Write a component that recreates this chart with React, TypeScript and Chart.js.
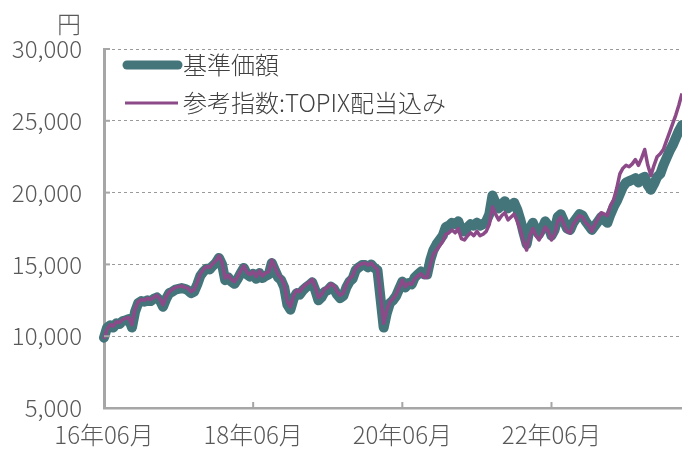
import { useEffect, useRef } from "react";
import { Chart, registerables } from "chart.js";
Chart.register(...registerables);

// Semi-monthly observation dates (nominal), 2016-06 .. 2024-03
const dates: string[] = [];
for (let i = 0; i <= 186; i++) {
  const m = 5 + Math.floor(i / 2);
  const y = 2016 + Math.floor(m / 12);
  const mm = (m % 12) + 1;
  dates.push(`${y}-${String(mm).padStart(2, "0")}-${i % 2 === 0 ? "01" : "16"}`);
}

const tickDates = ["2016-06-01", "2018-06-01", "2020-06-01", "2022-06-01"];
const tickLabels = ["16年06月", "18年06月", "20年06月", "22年06月"];

const unitLabel = "円";
const seriesNames = ["基準価額", "参考指数:TOPIX配当込み"];

const fundValues = [
  9900, 10600, 10750, 10600, 10900, 10850, 11050, 11100, 11200, 10600, 11700, 12300,
  12450, 12400, 12500, 12450, 12600, 12700, 12500, 12050, 12600, 13000, 13100, 13250,
  13300, 13350, 13300, 13200, 13000, 13100, 13600, 14200, 14500, 14700, 14650, 14900,
  15100, 15450, 15000, 13900, 14100, 13800, 13650, 14000, 14400, 14750, 14300, 14150,
  14350, 14000, 14400, 14050, 14200, 14300, 15100, 14600, 14100, 13900, 13400, 12200,
  11850, 12600, 13000, 12900, 13200, 13400, 13550, 13750, 13200, 12500, 12700, 13100,
  13200, 13450, 13300, 12900, 12650, 12800, 13400, 13800, 14000, 14600, 14800, 14950,
  14950, 14800, 15000, 14750, 14600, 12600, 10600, 11600, 12300, 12500, 12800, 13300,
  13800, 13400, 13700, 13600, 14100, 14300, 14500, 14300, 14300, 15300, 16000, 16400,
  16700, 17000, 17600, 17700, 17900, 17800, 18000, 17400, 17300, 17600, 17800, 17700,
  17900, 17700, 17800, 18000, 18500, 19800, 19300, 18900, 19200, 19400, 18900, 19100,
  19300, 18800, 18100, 17200, 16400, 17500, 17900, 17400, 17100, 17500, 18000, 17700,
  17000, 17400, 18300, 18500, 18000, 17500, 17400, 17900, 18200, 18500, 18400, 18000,
  17700, 17400, 17700, 18000, 18300, 18100, 17900, 18500, 19000, 19400, 19900, 20400,
  20700, 20800, 20900, 21000, 20700, 21000, 21100, 20500, 20200, 20600, 21100, 21300,
  21900, 22400, 22900, 23300, 23800, 24300, 24700,
];

const indexValues = [
  9800, 10500, 10800, 10700, 11000, 10950, 11150, 11250, 11300, 10800, 11900, 12400,
  12550, 12500, 12650, 12550, 12700, 12850, 12600, 12200, 12750, 13100, 13250, 13400,
  13450, 13500, 13400, 13350, 13100, 13250, 13750, 14350, 14650, 14850, 14800, 15050,
  15250, 15600, 15150, 14050, 14250, 13950, 13800, 14150, 14550, 14900, 14450, 14300,
  14500, 14150, 14550, 14200, 14400, 14500, 15300, 14800, 14300, 14050, 13600, 12400,
  12050, 12800, 13200, 13100, 13400, 13600, 13750, 13950, 13400, 12700, 12900, 13300,
  13400, 13650, 13500, 13100, 12850, 13000, 13600, 14000, 14200, 14750, 14950, 15050,
  15100, 14950, 15100, 14850, 14650, 12800, 10900, 11800, 12400, 12600, 12900, 13400,
  13900, 13450, 13700, 13600, 14000, 14200, 14350, 14100, 14100, 15000, 15700, 16000,
  16300, 16600, 17100, 17200, 17400, 17200, 17500, 16800, 16700, 17000, 17200, 17000,
  17300, 17000, 17100, 17300, 17800, 19000, 18500, 18100, 18400, 18600, 18100, 18300,
  18500, 18000, 17400, 16600, 16000, 17000, 17500, 17000, 16700, 17100, 17600, 17300,
  16700, 17100, 18000, 18300, 17800, 17300, 17200, 17800, 18100, 18400, 18300, 17900,
  17700, 17300, 17800, 18200, 18600, 18500, 18400, 19100, 19500, 20300, 21300, 21700,
  21900, 21800, 22000, 22300, 21900, 22400, 23000, 21900, 21200, 21900, 22500, 22700,
  23000, 23600, 24200, 24800, 25400, 26100, 26900,
];

const FONT = "'Noto Sans CJK JP', 'Noto Sans', sans-serif";
const TEAL = "#44757b";
const PURPLE = "#8c4a88";
const AXIS = "#a6a6a6";
const TEXT = "#595959";
const LEGEND_TEXT = "#404040";

const overlay = {
  id: "overlay",
  afterDraw(chart: any) {
    const { ctx, chartArea, scales } = chart;
    const xs = scales.x;
    const ys = scales.y;
    ctx.save();
    // inward tick marks
    ctx.strokeStyle = AXIS;
    ctx.lineWidth = 2;
    ys.ticks.forEach((_t: any, i: number) => {
      const py = ys.getPixelForTick(i);
      ctx.beginPath();
      ctx.moveTo(chartArea.left, py);
      ctx.lineTo(chartArea.left + 6, py);
      ctx.stroke();
    });
    tickDates.forEach((d) => {
      const idx = dates.indexOf(d);
      if (idx < 0) return;
      const px = xs.getPixelForValue(idx);
      ctx.beginPath();
      ctx.moveTo(px, chartArea.bottom);
      ctx.lineTo(px, chartArea.bottom - 6);
      ctx.stroke();
    });
    // unit label
    ctx.fillStyle = TEXT;
    ctx.font = `300 24px ${FONT}`;
    ctx.textAlign = "right";
    ctx.textBaseline = "middle";
    ctx.fillText(unitLabel, 81, 24);
    // legend
    ctx.lineCap = "round";
    ctx.strokeStyle = TEAL;
    ctx.lineWidth = 9;
    ctx.beginPath();
    ctx.moveTo(127, 65);
    ctx.lineTo(178, 65);
    ctx.stroke();
    ctx.lineCap = "butt";
    ctx.strokeStyle = PURPLE;
    ctx.lineWidth = 3;
    ctx.beginPath();
    ctx.moveTo(125, 103);
    ctx.lineTo(178, 103);
    ctx.stroke();
    ctx.fillStyle = LEGEND_TEXT;
    ctx.textAlign = "left";
    ctx.fillText(seriesNames[0], 183, 65);
    ctx.fillText(seriesNames[1], 183, 103);
    ctx.restore();
  },
};

export default function App() {
  const ref = useRef<HTMLCanvasElement>(null);
  useEffect(() => {
    if (!ref.current) return;
    const chart = new Chart(ref.current, {
      type: "line",
      data: {
        labels: dates,
        datasets: [
          {
            label: seriesNames[1],
            data: indexValues,
            borderColor: PURPLE,
            borderWidth: 3.5,
            pointRadius: 0,
            tension: 0,
            borderJoinStyle: "round",
            order: 0,
          },
          {
            label: seriesNames[0],
            data: fundValues,
            borderColor: TEAL,
            borderWidth: 10,
            pointRadius: 0,
            tension: 0,
            borderJoinStyle: "round",
            borderCapStyle: "round",
            order: 1,
          },
        ],
      },
      options: {
        animation: false,
        responsive: true,
        maintainAspectRatio: false,
        layout: { padding: { top: 49, right: 0, left: 0, bottom: 0 } },
        plugins: { legend: { display: false }, tooltip: { enabled: false } },
        scales: {
          x: {
            type: "category",
            grid: { display: false, drawTicks: false },
            border: { display: true, color: AXIS, width: 2.5 },
            ticks: {
              autoSkip: false,
              maxRotation: 0,
              padding: 12,
              color: TEXT,
              font: { family: FONT, size: 24, weight: "300" },
              callback: (_v: any, i: number) => {
                const k = tickDates.indexOf(dates[i]);
                return k >= 0 ? tickLabels[k] : null;
              },
            },
            afterFit: (s: any) => {
              s.height = 42;
            },
          },
          y: {
            min: 5000,
            max: 30000,
            grid: { display: true, drawTicks: false, color: "#9a9a9a", lineWidth: 1 },
            border: { display: true, color: AXIS, width: 3, dash: [3, 3] },
            ticks: {
              stepSize: 5000,
              padding: 22,
              color: TEXT,
              font: { family: FONT, size: 24, weight: "300" },
              callback: (v: any) => Number(v).toLocaleString("en-US"),
            },
            afterFit: (s: any) => {
              s.width = 104;
            },
          },
        },
      },
      plugins: [overlay],
    });
    return () => chart.destroy();
  }, []);
  return (
    <div style={{ position: "absolute", left: 0, top: 0, width: 682, height: 450 }}>
      <canvas ref={ref} />
    </div>
  );
}
